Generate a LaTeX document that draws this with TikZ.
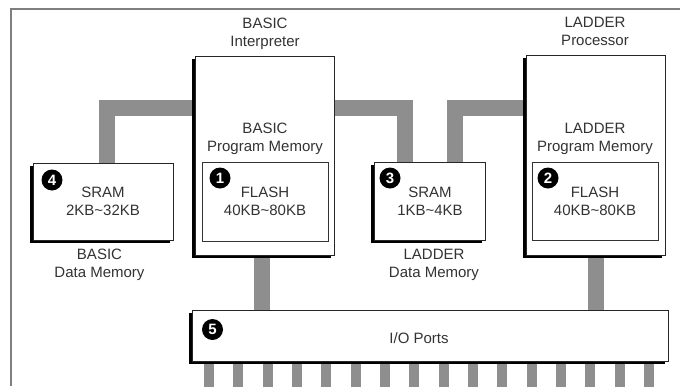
\documentclass[tikz,border=0pt]{standalone}
\usepackage{fontspec}
\setmainfont{Liberation Sans}
\usetikzlibrary{shadows,backgrounds}
\definecolor{busgray}{HTML}{8E8E8E}
\definecolor{txt}{HTML}{333333}
\definecolor{framegray}{HTML}{7F7F7F}
\begin{document}
\begin{tikzpicture}[x=1pt,y=-1pt,
  box/.style={draw=black!85, line width=0.8pt, fill=white, inner sep=0pt,
    drop shadow={shadow xshift=-3pt, shadow yshift=-3pt, opacity=1, fill=black}},
  inbox/.style={draw=black!80, line width=0.8pt, fill=white, inner sep=0pt},
  lbl/.style={text=txt, font=\fontsize{15}{18}\selectfont, align=center, inner sep=0pt, anchor=north},
  num/.style={circle, fill=black, text=white, inner sep=0pt, minimum size=21pt,
    font=\fontsize{15}{15}\selectfont\bfseries},
  bus/.style={draw=busgray, line width=16pt},
  pin/.style={draw=busgray, line width=10pt}]
\useasboundingbox (0,0) rectangle (680,386);

% boxes
\node[box, minimum width=140pt, minimum height=77pt] (sram4) at (103,201.5) {};
\node[box, minimum width=139pt, minimum height=199pt] (basic) at (264.5,155.5) {};
\node[inbox, minimum width=126pt, minimum height=79pt] (flash1) at (265,201.5) {};
\node[box, minimum width=111pt, minimum height=78pt] (sram3) at (429.5,201) {};
\node[box, minimum width=139pt, minimum height=200pt] (ladder) at (595.5,155) {};
\node[inbox, minimum width=126pt, minimum height=78pt] (flash2) at (595,201) {};
\node[box, minimum width=476pt, minimum height=51pt] (io) at (430,335.5) {};

% buses
\begin{pgfonlayer}{background}
  \fill[white] (0,0) rectangle (680,386);
  \coordinate (busline) at (0,108);
  \draw[bus] ([xshift=4pt]sram4.north) |- (basic.west |- busline);
  \draw[bus] (basic.east |- busline) -| ([xshift=-24.5pt]sram3.north);
  \draw[bus] ([xshift=25.5pt]sram3.north) |- (ladder.west |- busline);
  \draw[bus] ([xshift=-2.5pt]basic.south) -- ([xshift=-2.5pt]basic.south |- io.north);
  \draw[bus] (ladder.south) -- (ladder.south |- io.north);
  \foreach \i in {0,...,15}{
    \coordinate (pinx) at ({209+29.33*\i},0);
    \draw[pin] (io.south -| pinx) -- ++(0,30);
  }
\end{pgfonlayer}

% frame
\draw[framegray, line width=2pt] (11,386) -- (11,9) -- (680,9);

% labels
\node[lbl] (t1) at (265,18) {BASIC\\Interpreter};
\node[lbl] (t2) at (595,17) {LADDER\\Processor};
\node[lbl] (t3) at (265,123) {BASIC\\Program Memory};
\node[lbl] (t4) at (595,123) {LADDER\\Program Memory};
\node[lbl] (t5) at (265,187) {FLASH\\40KB\textasciitilde80KB};
\node[lbl] (t6) at (103,187) {SRAM\\2KB\textasciitilde32KB};
\node[lbl] (t7) at (430,187) {SRAM\\1KB\textasciitilde4KB};
\node[lbl] (t8) at (595,187) {FLASH\\40KB\textasciitilde80KB};
\node[lbl] (t9) at (99.5,249) {BASIC\\Data Memory};
\node[lbl] (t10) at (434,249) {LADDER\\Data Memory};
\node[lbl, anchor=center] (t11) at (419,338) {I/O Ports};

% numbers
\node[num] (n1) at (220,178) {1};
\node[num] (n2) at (548,178) {2};
\node[num] (n3) at (390,178) {3};
\node[num] (n4) at (52,180) {4};
\node[num] (n5) at (212.5,329.5) {5};
\end{tikzpicture}
\end{document}
